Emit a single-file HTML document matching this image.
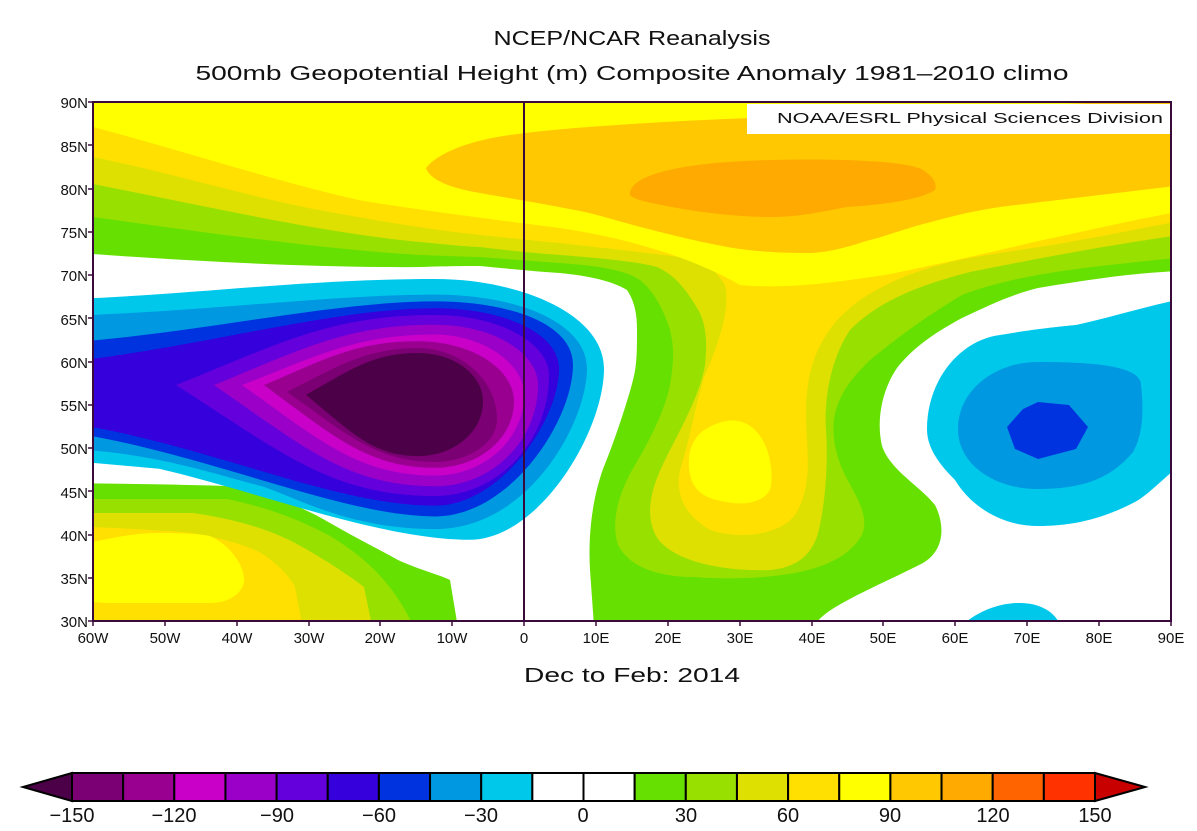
<!DOCTYPE html>
<html><head><meta charset="utf-8"><style>
html,body{margin:0;padding:0;background:#fff;}
svg{display:block;}
text{font-family:"Liberation Sans",sans-serif;fill:#111;}
</style></head><body>
<svg width="1197" height="831" viewBox="0 0 1197 831" xmlns="http://www.w3.org/2000/svg">
<defs><clipPath id="m"><rect x="93" y="102" width="1078" height="519"/></clipPath></defs>
<rect width="1197" height="831" fill="#fff"/>
<text x="632" y="45" font-size="20" text-anchor="middle" textLength="277" lengthAdjust="spacingAndGlyphs">NCEP/NCAR Reanalysis</text>
<text x="632" y="80" font-size="20" text-anchor="middle" textLength="873" lengthAdjust="spacingAndGlyphs">500mb Geopotential Height (m) Composite Anomaly 1981–2010 climo</text>
<g clip-path="url(#m)">
<rect x="93" y="102" width="1078" height="519" fill="#fff"/>
<!-- positive levels -->
<path fill="#66e000" d="M60,254 L93,254 C200,262 330,268 420,267 C450,266 470,266 480,266 C520,270 545,272 560,273 C590,276 612,281 627,290 C635,302 637,315 637,330 C637,350 637,365 633,380 C628,400 615,440 603,469 C592,500 588,536 590,570 L595,640 L812,640 L817,622 C830,605 880,585 923,563 C945,550 945,525 935,505 C920,486 890,470 882,446 C876,420 882,390 897,368 C915,345 940,330 962,318 C990,305 1010,295 1038,288 C1100,278 1140,272 1200,270 L1200,60 L60,60 Z"/>
<path fill="#66e000" d="M60,483 C150,484 200,485 227,486 C270,495 300,505 330,523 C360,540 380,550 398,560 C420,570 440,575 450,580 L460,640 L60,640 Z"/>
<path fill="#98e000" d="M60,217 L93,217 C200,232 330,250 420,255 C450,256 470,257 480,257 C520,260 545,262 560,263 C600,266 625,270 640,280 C652,290 662,305 670,330 C675,350 673,367 670,385 C665,410 650,440 635,465 C620,490 610,520 618,545 C630,568 660,577 695,577 C730,580 770,578 800,572 C830,565 850,555 862,535 C870,515 855,495 845,475 C835,455 830,430 836,410 C842,390 852,378 870,360 C895,340 920,320 962,295 C1000,280 1050,272 1100,266 C1140,262 1170,258 1200,256 L1200,60 L60,60 Z"/>
<path fill="#98e000" d="M60,499 L227,499 C270,508 300,520 330,536 C370,560 400,590 419,640 L60,640 Z"/>
<path fill="#dde000" d="M60,184 L93,184 C200,205 300,228 400,240 C440,244 470,247 480,247 C520,252 545,254 560,255 C600,258 640,262 657,267 C675,275 687,290 700,313 C707,330 707,345 705,365 C700,395 680,430 665,460 C650,490 645,515 656,536 C670,560 720,572 771,570 C800,567 815,552 820,525 C826,495 828,460 826,430 C824,400 830,360 850,330 C880,300 920,285 970,272 C1050,256 1110,245 1200,232 L1200,60 L60,60 Z"/>
<path fill="#dde000" d="M60,513 L193,513 C240,520 270,530 295,543 C330,562 355,580 364,587 L375,640 L60,640 Z"/>
<path fill="#ffe000" d="M60,157 L93,157 C180,175 260,200 330,212 C400,225 450,232 480,235 C520,239 545,242 560,243 C620,250 670,255 697,260 C710,265 717,273 725,285 C730,310 720,340 705,375 C695,405 690,440 680,470 C675,495 685,515 710,530 C740,540 780,535 795,515 C808,495 809,470 807,440 C805,410 805,380 817,352 C828,328 840,315 860,300 C890,280 923,268 960,260 C1000,252 1038,248 1080,240 C1120,233 1160,224 1200,218 L1200,60 L60,60 Z"/>
<path fill="#ffe000" d="M60,526 C120,528 160,530 193,533 C230,540 250,547 261,553 C280,565 292,580 295,587 L305,640 L60,640 Z"/>
<path fill="#ffff00" d="M60,127 L93,127 C180,150 295,187 364,201 C420,210 480,218 560,228 C640,240 700,262 740,285 C790,290 850,280 885,275 C950,262 1000,250 1038,241 C1100,228 1140,218 1200,208 L1200,60 L60,60 Z"/>
<path fill="#ffff00" d="M706,429 C720,420 740,415 755,430 C770,445 773,470 771,486 C768,500 750,505 733,503 C710,500 695,495 690,475 C686,455 692,437 706,429 Z"/>
<path fill="#ffff00" d="M60,550 C100,540 130,533 158,533 C185,533 200,534 210,536 C230,545 244,565 244,580 C244,592 230,603 210,603 L107,603 L60,600 Z"/>
<path fill="#ffc800" d="M426,168 C440,150 480,138 518,134 C560,128 650,122 750,118 L1200,98 L1200,183 C1100,195 1040,202 1000,207 C960,213 940,220 923,224 C895,232 880,238 866,241 C840,250 820,253 809,253 C780,253 760,252 733,248 C700,242 680,237 656,231 C620,222 600,215 580,211 C550,205 520,200 480,193 C450,188 430,180 426,168 Z"/>
<path fill="#ffaa00" d="M630,194 C630,175 680,162 771,160 C850,158 910,162 923,170 C935,178 937,185 935,190 C920,200 880,205 847,207 C820,212 800,217 771,217 C740,217 710,213 695,211 C660,205 630,200 630,194 Z"/>
<!-- left negative blob -->
<g transform="translate(0,2.7) scale(1,0.973)">
<path fill="#00c8eb" d="M60,305 C200,300 300,284 435,284 C520,284 604,320 604,376 C604,440 540,552 469,552 C380,552 250,500 159,479 L60,470 Z"/>
<path fill="#0098e0" d="M60,322 C200,318 330,300 435,300 C520,300 587,330 587,376 C587,430 530,541 435,541 C350,541 300,510 262,497 C200,480 150,462 60,458 Z"/>
<path fill="#0033e0" d="M60,350 C200,340 330,307 435,307 C510,307 573,330 573,372 C573,430 510,528 435,528 C340,528 200,460 60,440 Z"/>
<path fill="#3500dc" d="M60,370 C200,355 330,314 435,314 C505,314 559,340 559,376 C559,430 500,517 435,517 C330,517 200,450 60,431 Z"/>
<path fill="#6400dc" d="M176,393 C280,350 331,321 435,321 C498,321 549,349 549,383 C549,451 498,507 435,507 C331,507 280,461 176,393 Z"/>
<path fill="#9a00c8" d="M214,393 C302,356 347,331 435,331 C492,331 538,359 538,393 C538,450 492,497 435,497 C347,497 302,455 214,393 Z"/>
<path fill="#c800c8" d="M242,393 C319,362 358,341 435,341 C480,341 524,369 524,403 C524,449 484,486 435,486 C358,486 319,449 242,393 Z"/>
<path fill="#990090" d="M264,393 C326,366 356,348 418,348 C471,348 514,376 514,410 C514,448 478,478 435,478 C367,478 332,444 264,393 Z"/>
<path fill="#7b0073" d="M287,400 C339,373 366,355 418,355 C461,355 497,388 497,428 C497,452 469,472 435,472 C376,472 346,443 287,400 Z"/>
<path fill="#4b0048" d="M306,403 C351,377 373,360 418,360 C454,360 483,382 483,410 C483,441 454,466 418,466 C373,466 351,441 306,403 Z"/>
</g>
<!-- right negative blob -->
<path fill="#00c8eb" d="M927,429 C927,380 960,340 1000,335 C1040,328 1076,325 1076,325 C1120,315 1150,305 1200,295 L1200,450 C1170,470 1150,495 1133,503 C1100,520 1070,526 1038,526 C1000,526 970,505 955,480 C935,460 927,445 927,429 Z"/>
<path fill="#0098e0" d="M958,429 C958,390 995,362 1038,362 C1090,362 1141,365 1141,385 C1145,420 1140,440 1133,452 C1110,480 1080,489 1038,489 C995,489 958,465 958,429 Z"/>
<path fill="#0033e0" d="M1007,427 L1023,409 L1038,402 L1069,405 L1088,427 L1076,449 L1038,459 L1015,449 Z"/>
<path fill="#00c8eb" d="M962,625 C980,610 1000,603 1020,603 C1040,603 1055,612 1060,625 Z"/>
<line x1="524" y1="102" x2="524" y2="621" stroke="#3a0a3a" stroke-width="2"/>
</g>
<rect x="747" y="104" width="423" height="30" fill="#fff"/>
<text x="1163" y="123" font-size="15" text-anchor="end" textLength="386" lengthAdjust="spacingAndGlyphs">NOAA/ESRL Physical Sciences Division</text>
<rect x="93" y="102" width="1078" height="519" fill="none" stroke="#3a0a3a" stroke-width="2"/>
<g font-size="15" text-anchor="end">
<text x="88" y="108">90N</text><text x="88" y="152">85N</text><text x="88" y="195">80N</text><text x="88" y="238">75N</text><text x="88" y="281">70N</text><text x="88" y="325">65N</text><text x="88" y="368">60N</text><text x="88" y="411">55N</text><text x="88" y="454">50N</text><text x="88" y="498">45N</text><text x="88" y="541">40N</text><text x="88" y="584">35N</text><text x="88" y="627">30N</text>
</g>
<g stroke="#3a0a3a" stroke-width="1.5">
<path d="M88,102H93M88,145H93M88,189H93M88,232H93M88,275H93M88,318H93M88,362H93M88,405H93M88,448H93M88,491H93M88,535H93M88,578H93M88,621H93"/>
<path d="M93,621V626M165,621V626M237,621V626M309,621V626M380,621V626M452,621V626M524,621V626M596,621V626M668,621V626M740,621V626M812,621V626M883,621V626M955,621V626M1027,621V626M1099,621V626M1171,621V626"/>
</g>
<g font-size="15" text-anchor="middle">
<text x="93" y="643">60W</text><text x="165" y="643">50W</text><text x="237" y="643">40W</text><text x="309" y="643">30W</text><text x="380" y="643">20W</text><text x="452" y="643">10W</text><text x="524" y="643">0</text><text x="596" y="643">10E</text><text x="668" y="643">20E</text><text x="740" y="643">30E</text><text x="812" y="643">40E</text><text x="883" y="643">50E</text><text x="955" y="643">60E</text><text x="1027" y="643">70E</text><text x="1099" y="643">80E</text><text x="1171" y="643">90E</text>
</g>
<text x="632" y="682" font-size="20" text-anchor="middle" textLength="216" lengthAdjust="spacingAndGlyphs">Dec to Feb: 2014</text>
<!-- colorbar -->
<g stroke="#000" stroke-width="2">
<polygon points="72,773 23,787 72,801" fill="#4b0048"/>
<rect x="72" y="773" width="51.15" height="28" fill="#7b0073"/>
<rect x="123.15" y="773" width="51.15" height="28" fill="#990090"/>
<rect x="174.3" y="773" width="51.15" height="28" fill="#c800c8"/>
<rect x="225.45" y="773" width="51.15" height="28" fill="#9a00c8"/>
<rect x="276.6" y="773" width="51.15" height="28" fill="#6400dc"/>
<rect x="327.75" y="773" width="51.15" height="28" fill="#3500dc"/>
<rect x="378.9" y="773" width="51.15" height="28" fill="#0033e0"/>
<rect x="430.05" y="773" width="51.15" height="28" fill="#0098e0"/>
<rect x="481.2" y="773" width="51.15" height="28" fill="#00c8eb"/>
<rect x="532.35" y="773" width="51.15" height="28" fill="#fff"/>
<rect x="583.5" y="773" width="51.15" height="28" fill="#fff"/>
<rect x="634.65" y="773" width="51.15" height="28" fill="#66e000"/>
<rect x="685.8" y="773" width="51.15" height="28" fill="#98e000"/>
<rect x="736.95" y="773" width="51.15" height="28" fill="#dde000"/>
<rect x="788.1" y="773" width="51.15" height="28" fill="#ffe000"/>
<rect x="839.25" y="773" width="51.15" height="28" fill="#ffff00"/>
<rect x="890.4" y="773" width="51.15" height="28" fill="#ffc800"/>
<rect x="941.55" y="773" width="51.15" height="28" fill="#ffaa00"/>
<rect x="992.7" y="773" width="51.15" height="28" fill="#ff6400"/>
<rect x="1043.85" y="773" width="51.15" height="28" fill="#ff3200"/>
<polygon points="1095,773 1145,787 1095,801" fill="#c80000"/>
</g>
<g font-size="20" text-anchor="middle">
<text x="72" y="822">−150</text><text x="174" y="822">−120</text><text x="277" y="822">−90</text><text x="379" y="822">−60</text><text x="481" y="822">−30</text><text x="583" y="822">0</text><text x="686" y="822">30</text><text x="788" y="822">60</text><text x="890" y="822">90</text><text x="993" y="822">120</text><text x="1095" y="822">150</text>
</g>
</svg>
</body></html>
